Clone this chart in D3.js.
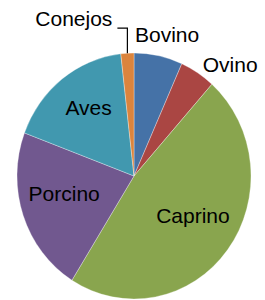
<html>
<head>
<script src="https://cdn.jsdelivr.net/npm/d3@7"></script>
</head>
<body style="margin:0">
<svg id="chart" width="265" height="300"></svg>
<script>
    // data (share of total, %)
    let categories = ["Bovino", "Ovino", "Caprino", "Porcino", "Aves", "Conejos"]
    let values = [6.7, 4.9, 47.3, 21.8, 17.5, 1.8]
    let colors = ["#4572A7", "#AA4643", "#89A54E", "#71588F", "#4198AF", "#DB843D"]

    let width = 265
    let height = 300
    let cx = 134, cy = 176
    let rx = 117, ry = 123

    let svg = d3.select("#chart")
    let rows = categories.map((c, i) => ({ name: c, value: values[i] }))

    let color = d3.scaleOrdinal().domain(categories).range(colors)

    let pie = d3.pie().sort(null).value(d => d.value)
    let arcs = pie(rows)
    let arc = d3.arc().innerRadius(0).outerRadius(rx)

    let pieG = svg.append("g")
        .attr("transform", `translate(${cx},${cy}) scale(1,${ry / rx})`)

    pieG.selectAll("path").data(arcs)
        .enter().append("path")
        .attr("d", arc)
        .attr("fill", d => color(d.data.name))
        .attr("stroke", "rgba(255,255,255,0.45)")
        .attr("stroke-width", 0.7)
        .attr("vector-effect", "non-scaling-stroke")

    // position on the (slightly elliptical) pie, angle from 12 o'clock clockwise
    function point(a, f) {
        return [cx + rx * f * Math.sin(a), cy - ry * f * Math.cos(a)]
    }

    let labels = svg.append("g")
        .attr("font-family", "'Liberation Sans', Arial, sans-serif")
        .attr("font-size", 21)
        .attr("fill", "black")

    arcs.forEach(d => {
        let mid = (d.startAngle + d.endAngle) / 2
        let share = d.data.value / d3.sum(values)
        let s = Math.sin(mid), c = Math.cos(mid)

        if (share < 0.03) {
            // tiny slice: label with an elbow leader line
            let e = point(mid, 1)
            let corner = [e[0], e[1] - 25]
            let end = [e[0] - 10, e[1] - 25]
            labels.append("path")
                .attr("d", d3.line()([e, corner, end]))
                .attr("fill", "none")
                .attr("stroke", "black")
                .attr("stroke-width", 1.2)
            labels.append("text")
                .attr("x", end[0] - 5)
                .attr("y", end[1] - 2)
                .attr("text-anchor", "end")
                .text(d.data.name)
        } else if (share < 0.08) {
            // small slice: label outside the edge
            let p = point(mid, 1.08)
            let t = labels.append("text").text(d.data.name).attr("dy", "0.35em")
            if (Math.abs(s) > 0.5) {
                t.attr("x", p[0]).attr("y", p[1])
                    .attr("text-anchor", s > 0 ? "start" : "end")
            } else {
                let w = t.node().getComputedTextLength()
                t.attr("x", p[0] + w / 2 * s).attr("y", p[1] - 12 * c)
                    .attr("text-anchor", "middle")
            }
        } else {
            let p = point(mid, 0.63)
            labels.append("text")
                .attr("x", p[0])
                .attr("y", p[1] - 7)
                .attr("dy", "0.35em")
                .attr("text-anchor", "middle")
                .text(d.data.name)
        }
    })
</script>
</body>
</html>
